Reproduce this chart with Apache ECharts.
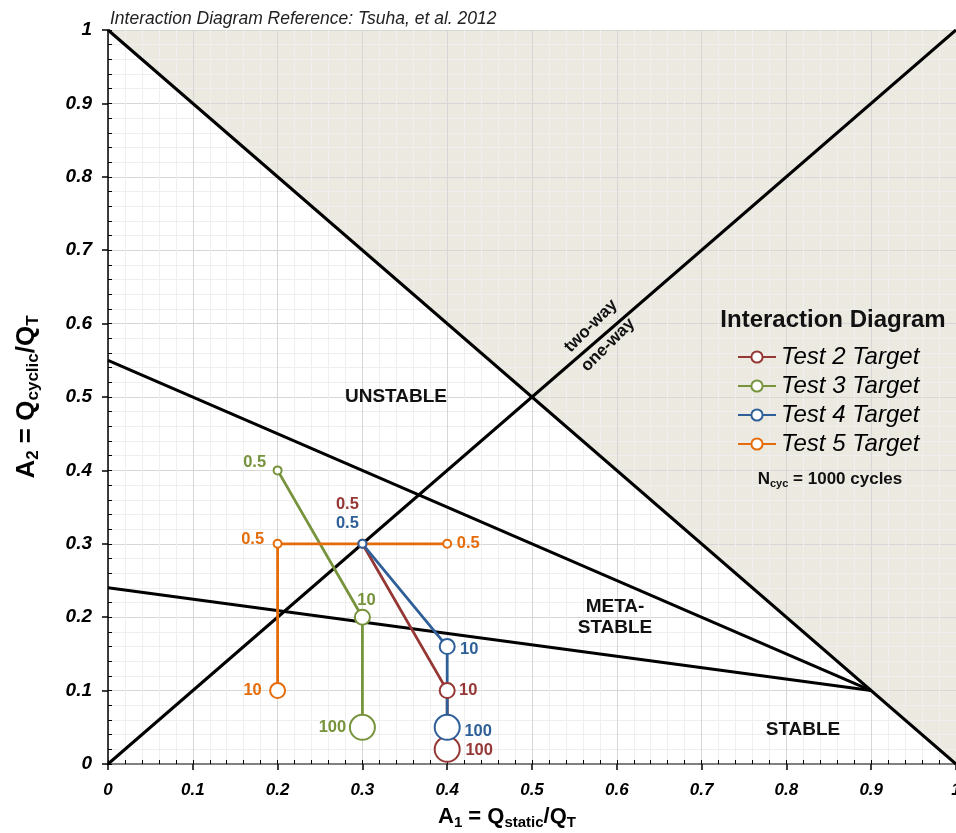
<!DOCTYPE html>
<html><head><meta charset="utf-8">
<script src="https://cdn.jsdelivr.net/npm/echarts@6/dist/echarts.min.js"></script>
<style>html,body{margin:0;padding:0;background:#fff}#c{width:956px;height:833px}</style>
</head><body><div id="c"></div>
<script>
// ---- data ----
const seriesNames = ['Test 2 Target', 'Test 3 Target', 'Test 4 Target', 'Test 5 Target'];
const test2A1 = [0.3, 0.4, 0.4];
const test2A2 = [0.3, 0.1, 0.02];
const test2N  = ['0.5', '10', '100'];
const test3A1 = [0.2, 0.3, 0.3];
const test3A2 = [0.4, 0.2, 0.05];
const test3N  = ['0.5', '10', '100'];
const test4A1 = [0.3, 0.4, 0.4];
const test4A2 = [0.3, 0.16, 0.05];
const test4N  = ['0.5', '10', '100'];
const test5A1 = [0.4, 0.2, 0.2];
const test5A2 = [0.3, 0.3, 0.1];
const test5N  = ['0.5', '0.5', '10'];
// boundary lines [A1, A2]
const failureLine   = [[0, 1], [1, 0]];
const wayLine       = [[0, 0], [1, 1]];
const unstableLine  = [[0, 0.55], [0.9, 0.1]];
const stableLine    = [[0, 0.24], [0.9, 0.1]];

// ---- styles ----
const colors = ['#953735', '#77933C', '#2F5F98', '#E46C0A'];
const sizeByN = { '0.5': 8, '10': 15, '100': 25 };
const labelOffsets = [
  [[-15, -39], [21, 0], [32, 1]],
  [[-23, -8], [4, -17], [-30, 0]],
  [[-15, -20], [22, 3], [31, 4]],
  [[21, 0], [-25, -4], [-25, 0]]
];
const FONT = '"Liberation Sans", Arial, sans-serif';

function buildSeries(i, xs, ys, ns) {
  return {
    name: seriesNames[i], type: 'line', z: 5,
    data: xs.map((x, k) => ({
      value: [x, ys[k]],
      symbolSize: sizeByN[ns[k]],
      label: {
        show: true, position: 'inside', offset: labelOffsets[i][k],
        formatter: ns[k], color: colors[i], fontWeight: 'bold', fontSize: 16.5, fontFamily: FONT,
        textBorderWidth: 0
      }
    })),
    symbol: 'emptyCircle',
    color: colors[i],
    lineStyle: { color: colors[i], width: 2.8 },
    itemStyle: { color: colors[i], borderColor: colors[i], borderWidth: 2.2 },
    emphasis: { disabled: true }
  };
}
function boundary(data) {
  return { type: 'line', data: data, symbol: 'none', z: 3, silent: true,
    lineStyle: { color: '#000', width: 3 }, emphasis: { disabled: true } };
}

const chart = echarts.init(document.getElementById('c'));
const xName = '{b|A}{s|1}{b| = Q}{s|static}{b|/Q}{s|T}';
const yName = '{b|A}{s|2}{b| = Q}{s|cyclic}{b|/Q}{s|T}';
const txt = (x, y, t, size, rot) => ({ type: 'text', x: x, y: y, z: 100, rotation: rot || 0,
  style: { text: t, font: 'bold ' + size + 'px ' + FONT, fill: '#111', align: 'center', verticalAlign: 'middle' } });

chart.setOption({
  animation: false,
  textStyle: { fontFamily: FONT },
  title: [
    { text: 'Interaction Diagram Reference: Tsuha, et al. 2012', left: 105, top: 5,
      textStyle: { fontSize: 17.5, fontStyle: 'italic', fontWeight: 'normal', color: '#222', fontFamily: FONT } },
    { text: 'Interaction Diagram', left: 828, top: 303, textAlign: 'center',
      textStyle: { fontSize: 24, fontWeight: 'bold', color: '#111', fontFamily: FONT } }
  ],
  grid: { left: 108, right: 0, top: 30, bottom: 69, outerBoundsMode: 'none', containLabel: false },
  legend: {
    data: seriesNames, orient: 'vertical', left: 732, top: 340,
    itemWidth: 38, itemHeight: 14, itemGap: 5,
    textStyle: { fontSize: 24, fontStyle: 'italic', color: '#000', fontFamily: FONT, lineHeight: 24 }
  },
  xAxis: [
    { type: 'value', min: 0, max: 1, interval: 0.1, position: 'bottom',
      name: xName, nameLocation: 'middle', nameGap: 40,
      nameTextStyle: { padding: [0, 50, 0, 0], rich: {
        b: { fontSize: 22, fontWeight: 'bold', color: '#000', fontFamily: FONT, lineHeight: 26 },
        s: { fontSize: 15, fontWeight: 'bold', color: '#000', fontFamily: FONT, verticalAlign: 'bottom', lineHeight: 18, padding: [10, 0, 0, 0] } } },
      axisLine: { show: true, onZero: false, lineStyle: { color: '#000', width: 1.5 } },
      axisTick: { show: true, inside: false, length: 6, lineStyle: { color: '#000', width: 1.5 } },
      axisLabel: { fontSize: 17, fontWeight: 'bold', fontStyle: 'italic', color: '#000', margin: 18, fontFamily: FONT },
      splitLine: { show: true, lineStyle: { color: '#d6d6d6', width: 1 } },
      minorTick: { show: false, splitNumber: 5 },
      minorSplitLine: { show: true, lineStyle: { color: '#efefef', width: 1 } }
    },
    { type: 'value', min: 0, max: 1, interval: 0.02, position: 'bottom',
      axisLine: { show: false }, axisLabel: { show: false }, splitLine: { show: false },
      axisTick: { show: true, inside: true, length: 4, lineStyle: { color: '#000', width: 1 } } },
    { type: 'value', min: 0, max: 1, position: 'top',
      axisLine: { show: true, lineStyle: { color: '#808080', width: 2 } },
      axisLabel: { show: false }, axisTick: { show: false }, splitLine: { show: false } }
  ],
  yAxis: [
    { type: 'value', min: 0, max: 1, interval: 0.1, position: 'left',
      name: yName, nameLocation: 'middle', nameGap: 66, nameRotate: 90,
      nameTextStyle: { rich: {
        b: { fontSize: 26, fontWeight: 'bold', color: '#000', fontFamily: FONT, lineHeight: 30 },
        s: { fontSize: 17, fontWeight: 'bold', color: '#000', fontFamily: FONT, verticalAlign: 'bottom', lineHeight: 20, padding: [12, 0, 0, 0] } } },
      axisLine: { show: true, onZero: false, lineStyle: { color: '#000', width: 1.5 } },
      axisTick: { show: true, inside: false, length: 6, lineStyle: { color: '#000', width: 1.5 } },
      axisLabel: { fontSize: 19, fontWeight: 'bold', fontStyle: 'italic', color: '#000', margin: 16, fontFamily: FONT },
      splitLine: { show: true, lineStyle: { color: '#d6d6d6', width: 1 } },
      minorTick: { show: false, splitNumber: 5 },
      minorSplitLine: { show: true, lineStyle: { color: '#efefef', width: 1 } }
    },
    { type: 'value', min: 0, max: 1, interval: 0.02, position: 'left',
      axisLine: { show: false }, axisLabel: { show: false }, splitLine: { show: false },
      axisTick: { show: true, inside: true, length: 4, lineStyle: { color: '#000', width: 1 } } }
  ],
  series: [
    { type: 'line', data: failureLine, symbol: 'none', z: -1, silent: true,
      lineStyle: { width: 0 }, areaStyle: { origin: 'end', color: '#ebe9e0', opacity: 1 } },
    boundary(failureLine), boundary(wayLine), boundary(unstableLine), boundary(stableLine),
    buildSeries(0, test2A1, test2A2, test2N),
    buildSeries(1, test3A1, test3A2, test3N),
    buildSeries(2, test4A1, test4A2, test4N),
    buildSeries(3, test5A1, test5A2, test5N)
  ],
  graphic: [
    txt(396, 397, 'UNSTABLE', 19),
    txt(615, 607, 'META-', 19),
    txt(615, 628, 'STABLE', 19),
    txt(803, 730, 'STABLE', 19),
    txt(591, 326, 'two-way', 17, Math.PI / 4),
    txt(608, 345, 'one-way', 17, Math.PI / 4),
    { type: 'text', x: 830, y: 479, z: 100, style: {
        text: '{b|N}{s|cyc}{b| = 1000 cycles}', align: 'center', verticalAlign: 'middle',
        rich: { b: { font: 'bold 17px ' + FONT, fill: '#111', lineHeight: 20 },
                s: { font: 'bold 11px ' + FONT, fill: '#111', verticalAlign: 'bottom', lineHeight: 13, padding: [7, 0, 0, 0] } } } }
  ]
});
</script>
</body></html>
